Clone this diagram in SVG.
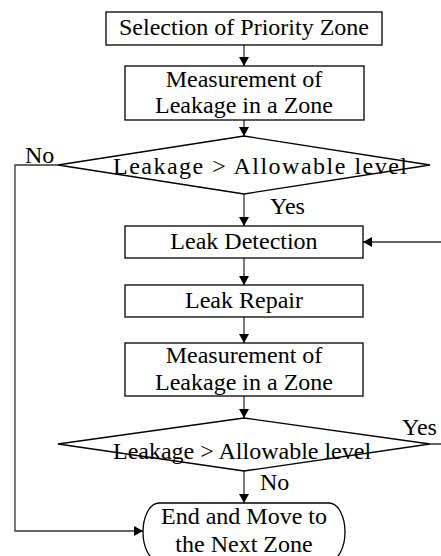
<svg xmlns="http://www.w3.org/2000/svg" width="441" height="556" viewBox="0 0 441 556">
<style>
.box{fill:#fff;stroke:#000;stroke-width:1.3}
.t{font-family:"Liberation Serif","Times New Roman",serif;font-size:24px;fill:#000;text-anchor:middle}
.l{text-anchor:start}
.c{fill:none;stroke:#333;stroke-width:1.3}
</style>
<defs>
<marker id="ah" markerUnits="userSpaceOnUse" markerWidth="10" markerHeight="10" refX="9" refY="5" orient="auto">
<path d="M0,0 L9,5 L0,10 Z" fill="#000"/>
</marker>
</defs>
<rect width="441" height="556" fill="#fff"/>
<g id="connectors">
<path class="c" d="M244,45 V66" marker-end="url(#ah)"/>
<path class="c" d="M244,120 V136" marker-end="url(#ah)"/>
<path class="c" d="M244,194 V226" marker-end="url(#ah)"/>
<path class="c" d="M244,258 V285" marker-end="url(#ah)"/>
<path class="c" d="M244,317 V343" marker-end="url(#ah)"/>
<path class="c" d="M244,396 V418" marker-end="url(#ah)"/>
<path class="c" d="M244,471 V503" marker-end="url(#ah)"/>
<path class="c" d="M58,165 H15 V531 H143" marker-end="url(#ah)"/>
<path class="c" d="M430,444 H448 V242 H363" marker-end="url(#ah)"/>
<text class="t l" x="25" y="163">No</text>
<text class="t l" x="270" y="214">Yes</text>
<text class="t l" x="402" y="435">Yes</text>
<text class="t l" x="260" y="490">No</text>
</g>
<g id="n1">
<rect class="box" x="106" y="12" width="276" height="33"/>
<text class="t" x="244" y="35">Selection of Priority Zone</text>
</g>
<g id="n2">
<rect class="box" x="125" y="66" width="239" height="54"/>
<text class="t" x="244" y="87">Measurement of</text>
<text class="t" x="244" y="113">Leakage in a Zone</text>
</g>
<g id="d1">
<polygon class="box" points="244,136 430,165 244,194 58,165"/>
<text class="t l" x="113" y="174" textLength="294" lengthAdjust="spacing">Leakage &gt; Allowable level</text>
</g>
<g id="n3">
<rect class="box" x="125" y="226" width="238" height="32"/>
<text class="t" x="244" y="249">Leak Detection</text>
</g>
<g id="n4">
<rect class="box" x="125" y="285" width="238" height="32"/>
<text class="t" x="244" y="308">Leak Repair</text>
</g>
<g id="n5">
<rect class="box" x="125" y="343" width="238" height="53"/>
<text class="t" x="244" y="363">Measurement of</text>
<text class="t" x="244" y="390">Leakage in a Zone</text>
</g>
<g id="d2">
<polygon class="box" points="244,418 430,444 244,471 58,444"/>
<text class="t l" x="113" y="459">Leakage &gt; Allowable level</text>
</g>
<g id="end">
<rect class="box" x="143" y="503" width="202" height="58" rx="16" ry="29"/>
<text class="t" x="244" y="524">End and Move to</text>
<text class="t" x="244" y="552">the Next Zone</text>
</g>
</svg>
